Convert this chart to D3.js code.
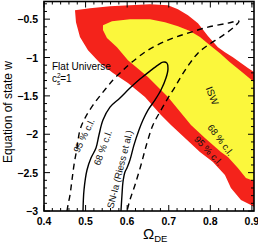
<!DOCTYPE html>
<html>
<head>
<meta charset="utf-8">
<script src="https://cdn.jsdelivr.net/npm/d3@7"></script>
<style>
  body { margin: 0; background: #fff; }
  svg { display: block; font-family: "Liberation Sans", Arial, sans-serif; }
</style>
</head>
<body>
<script>
// ISW 95% region: upper edge (left to right, running off the right side), lower edge (right to left)
var isw95Upper = [[0.4745,-0.383],[0.5106,-0.357],[0.5587,-0.331],[0.6067,-0.318],[0.6548,-0.305],
  [0.6981,-0.318],[0.7221,-0.370],[0.7462,-0.448],[0.7702,-0.552],[0.7942,-0.721],[0.8183,-0.865],
  [0.8351,-0.930],[0.8543,-0.995],[0.8736,-1.073],[0.8904,-1.138],[0.905,-1.190],[0.93,-1.21]];
var isw95Lower = [[0.93,-2.95],[0.905,-2.948],[0.8976,-2.922],[0.8736,-2.857],[0.8495,-2.701],
  [0.8351,-2.531],[0.8063,-2.362],[0.775,-2.232],[0.7389,-2.049],[0.7053,-1.880],[0.6813,-1.750],
  [0.6428,-1.516],[0.6019,-1.333],[0.5659,-1.203],[0.5346,-1.073],[0.5058,-0.904],[0.4865,-0.734],
  [0.4769,-0.539]];
// ISW 68% region
var isw68Upper = [[0.5418,-0.578],[0.5635,-0.526],[0.6067,-0.500],[0.6548,-0.500],[0.6909,-0.539],
  [0.7221,-0.591],[0.7510,-0.656],[0.775,-0.734],[0.799,-0.839],[0.8231,-0.943],[0.8471,-1.060],
  [0.8760,-1.190],[0.905,-1.320],[0.93,-1.34]];
var isw68Lower = [[0.93,-2.62],[0.905,-2.609],[0.8856,-2.570],[0.8663,-2.440],[0.8423,-2.297],
  [0.8255,-2.232],[0.787,-2.049],[0.7534,-1.880],[0.6981,-1.516],[0.65,-1.255],[0.6019,-1.034],
  [0.5755,-0.865],[0.5514,-0.747],[0.5418,-0.643]];
// SN-Ia (Riess et al.) contours
var sn68 = [[0.4938,-3.0],[0.4962,-2.727],[0.5034,-2.466],[0.5130,-2.310],[0.5250,-2.180],[0.5322,-2.010],
  [0.5418,-1.815],[0.5587,-1.646],[0.5827,-1.527],[0.6067,-1.398],[0.6308,-1.281],[0.6548,-1.177],
  [0.6740,-1.099],[0.6861,-1.060],[0.6957,-1.073],[0.6981,-1.151],[0.6933,-1.268],[0.6813,-1.424],
  [0.6668,-1.555],[0.65,-1.685],[0.638,-1.815],[0.6284,-1.945],[0.6163,-2.141],[0.6067,-2.336],
  [0.5995,-2.440],[0.5947,-2.492],[0.5899,-2.622],[0.5875,-2.792],[0.5851,-3.0]];
var sn95 = [[0.4553,-3.0],[0.4577,-2.922],[0.4625,-2.792],[0.4673,-2.596],[0.4721,-2.401],[0.4793,-2.180],
  [0.4865,-1.945],[0.4986,-1.789],[0.5178,-1.620],[0.5418,-1.451],[0.5659,-1.294],[0.5875,-1.177],
  [0.6115,-1.060],[0.65,-0.904],[0.6981,-0.773],[0.7462,-0.682],[0.7942,-0.604],[0.8423,-0.552],
  [0.8688,-0.526],[0.8567,-0.604],[0.8279,-0.721],[0.7942,-0.839],[0.7702,-0.943],[0.7510,-1.073],
  [0.7317,-1.229],[0.7149,-1.385],[0.6981,-1.529],[0.6813,-1.685],[0.662,-1.880],[0.6476,-2.115],
  [0.6332,-2.401],[0.6188,-2.661],[0.6067,-2.857],[0.5995,-3.0]];

var xTicks = [0.4, 0.5, 0.6, 0.7, 0.8, 0.9];
var yTicks = [-3, -2.5, -2, -1.5, -1, -0.5];

var W = 258, H = 251;
var x = d3.scaleLinear().domain([0.4, 0.905]).range([44, 254]);
var y = d3.scaleLinear().domain([-3, -0.27]).range([211, 1.5]);

var svg = d3.select("body").append("svg").attr("width", W).attr("height", H);

svg.append("clipPath").attr("id", "plot")
  .append("rect").attr("x", 44).attr("y", 1.5).attr("width", 210).attr("height", 209.5);

var line = d3.line().x(function(d){ return x(d[0]); }).y(function(d){ return y(d[1]); });
var smooth = d3.line().x(function(d){ return x(d[0]); }).y(function(d){ return y(d[1]); })
  .curve(d3.curveCatmullRom.alpha(0.5));

var g = svg.append("g").attr("clip-path", "url(#plot)");

g.append("path").attr("d", line(isw95Upper.concat(isw95Lower)) + "Z").attr("fill", "#f4231b");
g.append("path").attr("d", line(isw68Upper.concat(isw68Lower)) + "Z").attr("fill", "#fbf73c");

g.append("path").attr("d", smooth(sn68)).attr("fill", "none").attr("stroke", "#000").attr("stroke-width", 1.4);
g.append("path").attr("d", smooth(sn95)).attr("fill", "none").attr("stroke", "#000").attr("stroke-width", 1.4)
  .attr("stroke-dasharray", "6,4.5");

// ticks on all four sides, pointing inward
var xMinor = d3.range(0.4, 0.9001, 0.02);
var yMinor = d3.range(-3, -0.2999, 0.1);
var axes = svg.append("g").attr("stroke", "#000").attr("stroke-width", 1);
xMinor.forEach(function(v){
  var major = Math.abs(v*10 - Math.round(v*10)) < 1e-6;
  var len = major ? 6 : 3;
  axes.append("line").attr("x1", x(v)).attr("x2", x(v)).attr("y1", 211).attr("y2", 211 - len);
  axes.append("line").attr("x1", x(v)).attr("x2", x(v)).attr("y1", 1.5).attr("y2", 1.5 + len);
});
yMinor.forEach(function(v){
  var major = Math.abs(v*2 - Math.round(v*2)) < 1e-6;
  var len = major ? 6 : 3;
  axes.append("line").attr("y1", y(v)).attr("y2", y(v)).attr("x1", 44).attr("x2", 44 + len);
  axes.append("line").attr("y1", y(v)).attr("y2", y(v)).attr("x1", 254).attr("x2", 254 - len);
});
svg.append("rect").attr("x", 44).attr("y", 1.5).attr("width", 210).attr("height", 209.5)
  .attr("fill", "none").attr("stroke", "#000").attr("stroke-width", 1.6);

var fmt = function(v){ return d3.format("")(v).replace("-", "\u2212"); };
svg.selectAll(".xl").data(xTicks).enter().append("text")
  .attr("x", function(d){ return x(d); }).attr("y", 225)
  .attr("text-anchor", "middle").attr("font-size", 10.5).attr("font-weight", "bold")
  .text(function(d){ return d3.format(".1f")(d); });
svg.selectAll(".yl").data(yTicks).enter().append("text")
  .attr("x", 38).attr("y", function(d){ return y(d) + 4; })
  .attr("text-anchor", "end").attr("font-size", 10.5).attr("font-weight", "bold")
  .text(fmt);

svg.append("text").attr("transform", "translate(12,112) rotate(-90)")
  .attr("text-anchor", "middle").attr("font-size", 12).text("Equation of state w");

var xt = svg.append("text").attr("x", 143).attr("y", 239).attr("font-size", 15);
xt.append("tspan").text("\u03A9");
xt.append("tspan").attr("dy", 3).attr("font-size", 9.5).text("DE");

// annotations
svg.append("text").attr("x", 52).attr("y", 70).attr("font-size", 10).text("Flat Universe");
var cs = svg.append("text").attr("x", 52).attr("y", 82).attr("font-size", 10);
cs.append("tspan").text("c");
cs.append("tspan").attr("font-size", 6.5).attr("dy", -4).text("2");
cs.append("tspan").attr("font-size", 6.5).attr("dx", -3.6).attr("dy", 7).text("s");
cs.append("tspan").attr("dy", -3).text("=1");

function label(txt, px, py, ang, size){
  svg.append("text").attr("transform", "translate(" + px + "," + py + ") rotate(" + ang + ")")
    .attr("text-anchor", "middle").attr("font-size", size).attr("fill", "#111").text(txt);
}
label("95 % c.l.", 87, 137, -64, 9.5);
label("68 % c.l.", 106, 149, -70, 9.5);
label("SN-Ia (Riess et al.)", 123, 170, -76, 9.5);
label("ISW", 209, 97, 68, 10);
label("68 % c.l.", 218, 142, 53, 9.5);
label("95 % c.l.", 206, 153, 47, 9.5);
</script>
</body>
</html>
